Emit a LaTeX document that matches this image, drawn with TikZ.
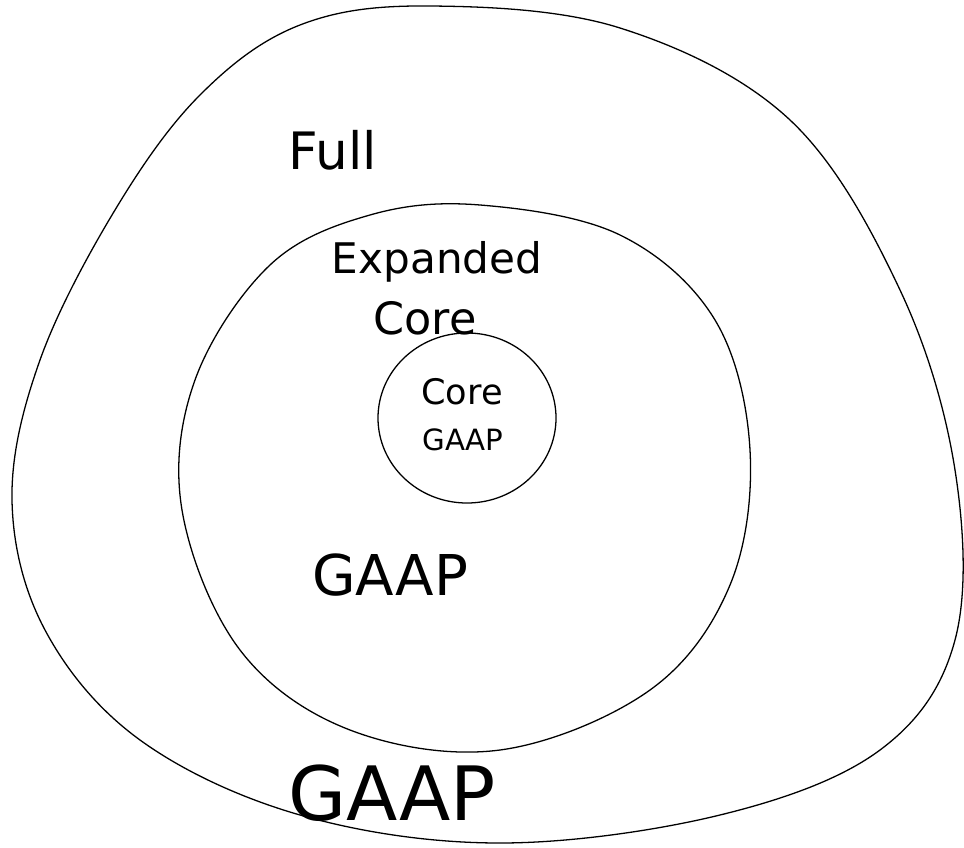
\documentclass[tikz,border=0pt]{standalone}
\usetikzlibrary{shapes.geometric}
\usepackage{fontspec}
\setsansfont{DejaVu Sans}
\newcommand{\fsz}[1]{\fontsize{#1}{#1}\selectfont}
\begin{document}
\begin{tikzpicture}[x=0.03cm,y=-0.03cm,
  ring/.style={draw=black,line width=1.1pt},
  lbl/.style={inner sep=0pt,font=\sffamily}]
\useasboundingbox (0,0) rectangle (964,847);
% outer curve
\draw[ring] plot[smooth cycle,tension=0.6] coordinates {
 (430,6) (620,28) (790,120) (900,290) (955,470) (955,640) (880,750)
 (720,815) (500,843) (300,815) (140,740) (45,630) (12,500) (40,360)
 (115,210) (200,95) (300,25)};
% middle curve
\draw[ring] plot[smooth cycle,tension=0.6] coordinates {
 (480,205) (620,235) (715,320) (750,450) (730,585) (650,690) (500,750)
 (350,730) (240,650) (182,510) (195,380) (270,265) (370,215)};
% inner circle
\node[ring,ellipse,minimum width=5.34cm,minimum height=5.1cm,inner sep=0pt] (core) at (467,418) {};
\node[lbl,font=\sffamily\fsz{44}] (full) at (333,150) {Full};
\node[lbl,font=\sffamily\fsz{36}] (exp) at (437,262) {Expanded};
\node[lbl,font=\sffamily\fsz{38}] (core2) at (425,318) {Core};
\node[lbl,font=\sffamily\fsz{30}] (c1) at (462,392) {Core};
\node[lbl,font=\sffamily\fsz{25}] (g1) at (463,440) {GAAP};
\node[lbl,font=\sffamily\fsz{48}] (g2) at (390,575) {GAAP};
\node[lbl,font=\sffamily\fsz{64}] (g3) at (392,793) {GAAP};
\end{tikzpicture}
\end{document}
